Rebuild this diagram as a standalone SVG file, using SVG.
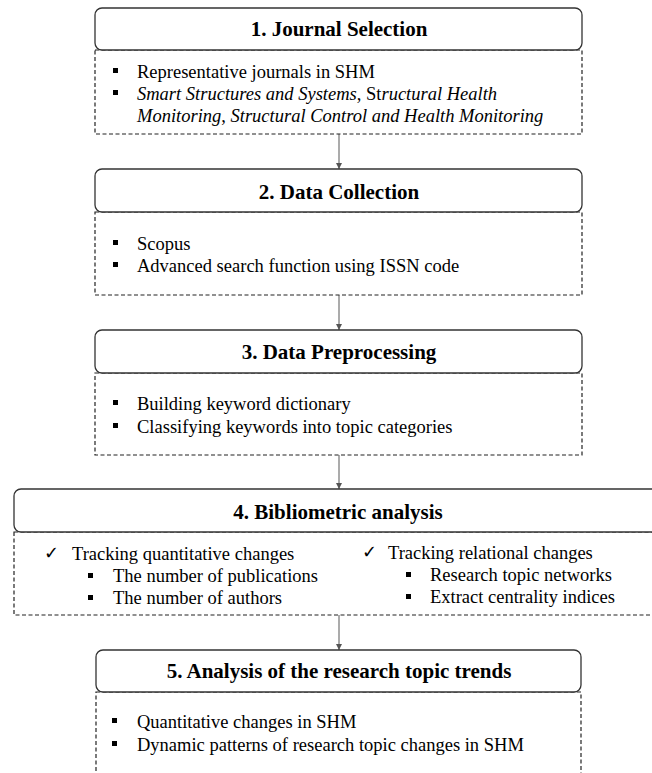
<svg xmlns="http://www.w3.org/2000/svg" width="652" height="773" viewBox="0 0 652 773">
  <style>
    .hdr { fill: #ffffff; stroke: #333333; stroke-width: 1.3; }
    .body { fill: #ffffff; stroke: #222222; stroke-width: 1.2; stroke-dasharray: 4 2.5; }
    .title { font-family: "Liberation Serif", "Times New Roman", serif; font-weight: bold; font-size: 21px; fill: #000; text-anchor: middle; }
    .txt { font-family: "Liberation Serif", "Times New Roman", serif; font-size: 18.5px; fill: #000; }
    .it { font-style: italic; }
    .chk { font-family: "DejaVu Sans", sans-serif; font-size: 18px; fill: #000; }
    .bul { fill: #000; }
    .conn { stroke: #666666; stroke-width: 1.1; fill: none; marker-end: url(#arr); }
  </style>
  <defs>
    <marker id="arr" viewBox="0 0 10 10" refX="10" refY="5" markerWidth="6" markerHeight="6" markerUnits="userSpaceOnUse" orient="auto">
      <path d="M0,0 L10,5 L0,10 z" fill="#555555"/>
    </marker>
    <rect id="sq" width="5" height="5"/>
  </defs>

  <rect width="652" height="773" fill="#ffffff"/>

  <!-- connectors between stages -->
  <g id="connectors">
    <line class="conn" x1="339" y1="134" x2="339" y2="169"/>
    <line class="conn" x1="339" y1="295" x2="339" y2="330"/>
    <line class="conn" x1="339" y1="455" x2="339" y2="489"/>
    <line class="conn" x1="339" y1="615" x2="339" y2="650"/>
  </g>

  <!-- stage 1 -->
  <g id="stage1">
    <rect class="body" x="95" y="50" width="487" height="84"/>
    <rect class="hdr" x="95" y="8" width="487" height="42" rx="7"/>
    <text class="title" x="339" y="36">1. Journal Selection</text>
    <use href="#sq" class="bul" x="113" y="68"/>
    <text class="txt" x="137" y="78">Representative journals in SHM</text>
    <use href="#sq" class="bul" x="113" y="90"/>
    <text class="txt" x="137" y="100"><tspan class="it">Smart Structures and Systems</tspan>, St<tspan class="it">ructural Health</tspan></text>
    <text class="txt" x="137" y="122"><tspan class="it">Monitoring</tspan>, <tspan class="it">Structural Control and Health Monitoring</tspan></text>
  </g>

  <!-- stage 2 -->
  <g id="stage2">
    <rect class="body" x="95" y="212" width="487" height="83"/>
    <rect class="hdr" x="95" y="169" width="487" height="43" rx="7"/>
    <text class="title" x="339" y="199">2. Data Collection</text>
    <use href="#sq" class="bul" x="113" y="240"/>
    <text class="txt" x="137" y="250">Scopus</text>
    <use href="#sq" class="bul" x="113" y="262"/>
    <text class="txt" x="137" y="272">Advanced search function using ISSN code</text>
  </g>

  <!-- stage 3 -->
  <g id="stage3">
    <rect class="body" x="95" y="373" width="487" height="82"/>
    <rect class="hdr" x="95" y="330" width="487" height="43" rx="7"/>
    <text class="title" x="339" y="359">3. Data Preprocessing</text>
    <use href="#sq" class="bul" x="113" y="400"/>
    <text class="txt" x="137" y="410">Building keyword dictionary</text>
    <use href="#sq" class="bul" x="113" y="423"/>
    <text class="txt" x="137" y="433">Classifying keywords into topic categories</text>
  </g>

  <!-- stage 4 (wider, runs past the right edge) -->
  <g id="stage4">
    <rect class="body" x="14" y="532" width="660" height="83"/>
    <rect class="hdr" x="14" y="489" width="660" height="43" rx="7"/>
    <text class="title" x="338" y="519">4. Bibliometric analysis</text>
    <text class="chk" x="44" y="559">✓</text>
    <text class="txt" x="72" y="560">Tracking quantitative changes</text>
    <use href="#sq" class="bul" x="88" y="573"/>
    <text class="txt" x="113" y="582">The number of publications</text>
    <use href="#sq" class="bul" x="88" y="595"/>
    <text class="txt" x="113" y="604">The number of authors</text>
    <text class="chk" x="362" y="558">✓</text>
    <text class="txt" x="388" y="559">Tracking relational changes</text>
    <use href="#sq" class="bul" x="406" y="572"/>
    <text class="txt" x="430" y="581">Research topic networks</text>
    <use href="#sq" class="bul" x="406" y="594"/>
    <text class="txt" x="430" y="603">Extract centrality indices</text>
  </g>

  <!-- stage 5 (open at the bottom) -->
  <g id="stage5">
    <rect class="body" x="96" y="692" width="485" height="120"/>
    <rect class="hdr" x="96" y="650" width="485" height="42" rx="7"/>
    <text class="title" x="339" y="678">5. Analysis of the research topic trends</text>
    <use href="#sq" class="bul" x="112" y="718"/>
    <text class="txt" x="137" y="728">Quantitative changes in SHM</text>
    <use href="#sq" class="bul" x="112" y="741"/>
    <text class="txt" x="137" y="751">Dynamic patterns of research topic changes in SHM</text>
  </g>
</svg>
